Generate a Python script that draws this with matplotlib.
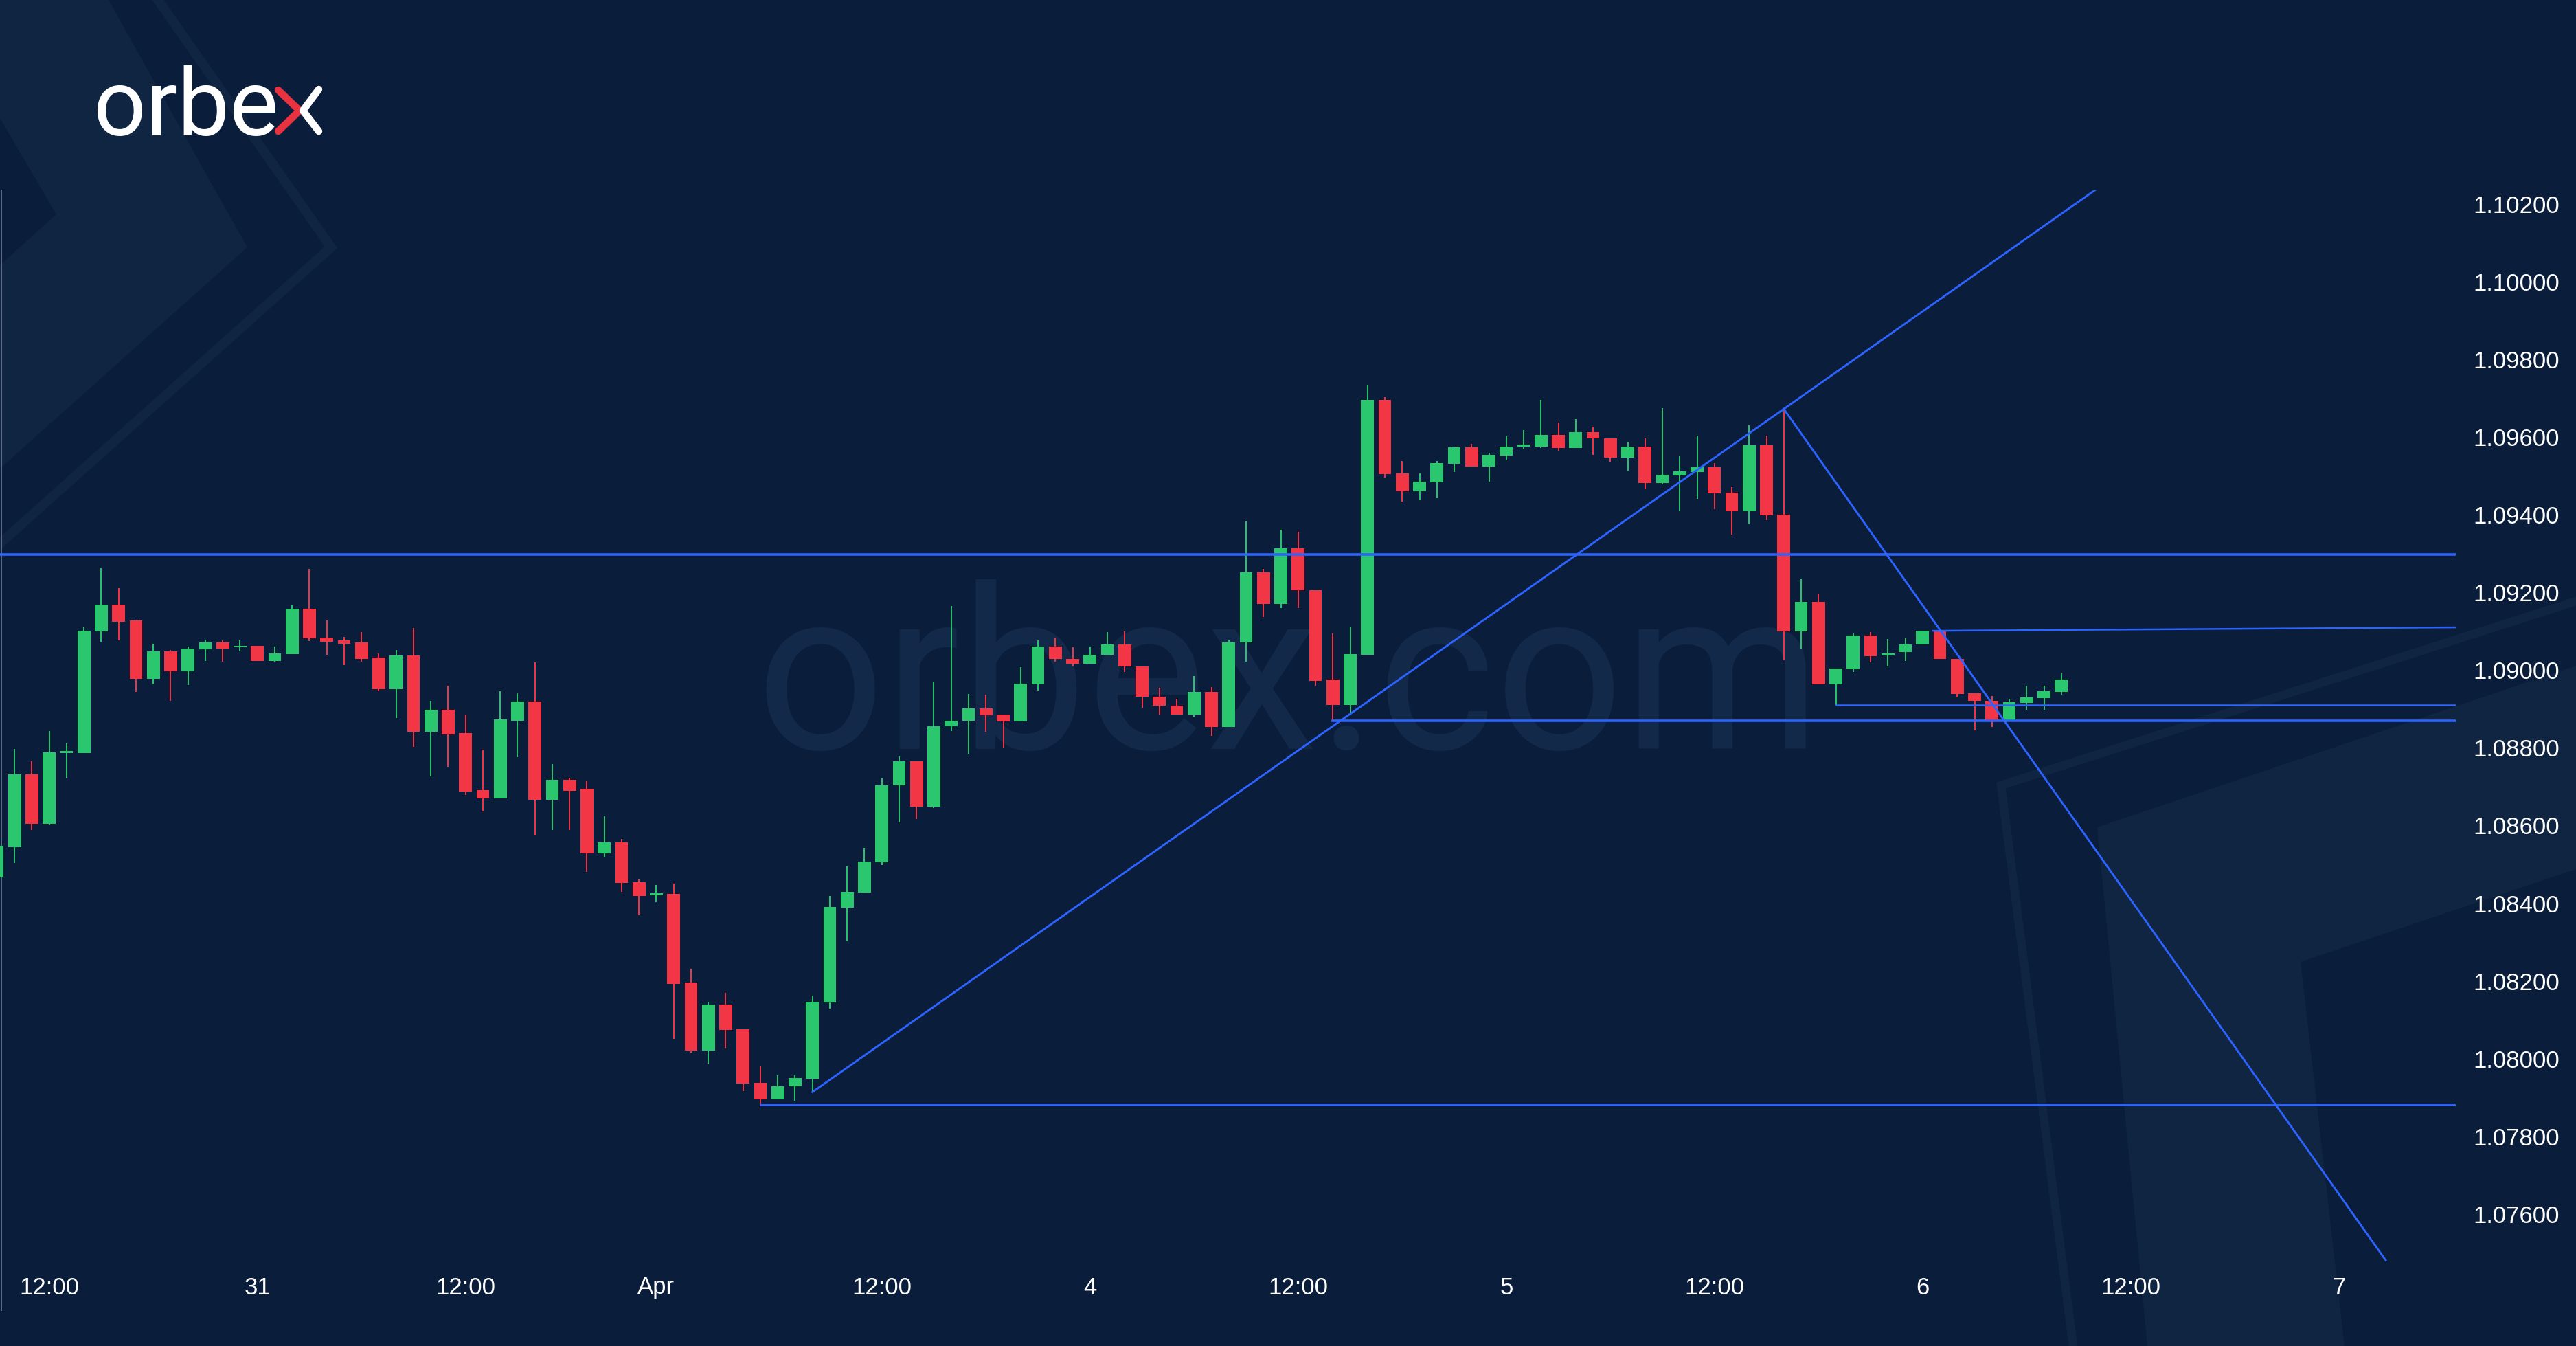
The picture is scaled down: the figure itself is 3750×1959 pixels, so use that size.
import matplotlib
matplotlib.use('Agg')
import matplotlib.pyplot as plt
from matplotlib.patches import Polygon
import numpy as np

# ---------------- data (hourly EURUSD candles, index -1 .. 118) ----------------
opens = [1.08466, 1.08545, 1.08731, 1.08604, 1.08787, 1.08786, 1.09100, 1.09169, 1.09127, 1.08978,
         1.09049, 1.08997, 1.09054, 1.09071, 1.09059, 1.09062, 1.09024, 1.09041, 1.09157, 1.09083,
         1.09076, 1.09071, 1.09033, 1.08951, 1.09037, 1.08842, 1.08897, 1.08838, 1.08691, 1.08670,
         1.08870, 1.08919, 1.08667, 1.08718, 1.08694, 1.08528, 1.08556, 1.08454, 1.08421, 1.08424,
         1.08196, 1.08021, 1.08139, 1.08076, 1.07937, 1.07896, 1.07929, 1.07949, 1.08144, 1.08389,
         1.08427, 1.08505, 1.08704, 1.08765, 1.08648, 1.08855, 1.08870, 1.08902, 1.08885, 1.08868,
         1.08963, 1.09061, 1.09029, 1.09017, 1.09039, 1.09066, 1.09010, 1.08932, 1.08909, 1.08886,
         1.08944, 1.08853, 1.09071, 1.09251, 1.09171, 1.09313, 1.09206, 1.08975, 1.08911, 1.09040,
         1.09696, 1.09507, 1.09460, 1.09483, 1.09531, 1.09574, 1.09523, 1.09552, 1.09576, 1.09575,
         1.09606, 1.09571, 1.09612, 1.09597, 1.09547, 1.09576, 1.09481, 1.09501, 1.09509, 1.09522,
         1.09456, 1.09409, 1.09579, 1.09400, 1.09100, 1.09176, 1.08964, 1.09003, 1.09089, 1.09038,
         1.09046, 1.09066, 1.09101, 1.09029, 1.08940, 1.08920, 1.08867, 1.08916, 1.08928, 1.08943]
highs = [1.08560, 1.08797, 1.08765, 1.08843, 1.08811, 1.09110, 1.09263, 1.09211, 1.09130, 1.09068,
         1.09052, 1.09061, 1.09078, 1.09076, 1.09076, 1.09063, 1.09061, 1.09168, 1.09261, 1.09127,
         1.09085, 1.09097, 1.09043, 1.09051, 1.09108, 1.08921, 1.08960, 1.08886, 1.08796, 1.08946,
         1.08941, 1.09020, 1.08758, 1.08723, 1.08715, 1.08624, 1.08566, 1.08461, 1.08447, 1.08450,
         1.08231, 1.08147, 1.08170, 1.08076, 1.07980, 1.07957, 1.07957, 1.08163, 1.08419, 1.08495,
         1.08543, 1.08721, 1.08777, 1.08765, 1.08970, 1.09165, 1.08939, 1.08937, 1.08885, 1.09007,
         1.09076, 1.09083, 1.09058, 1.09061, 1.09097, 1.09099, 1.09010, 1.08954, 1.08927, 1.08985,
         1.08956, 1.09079, 1.09383, 1.09260, 1.09361, 1.09355, 1.09206, 1.09094, 1.09112, 1.09734,
         1.09702, 1.09538, 1.09507, 1.09538, 1.09576, 1.09582, 1.09560, 1.09601, 1.09618, 1.09696,
         1.09637, 1.09645, 1.09627, 1.09597, 1.09588, 1.09596, 1.09675, 1.09551, 1.09604, 1.09533,
         1.09470, 1.09630, 1.09604, 1.09672, 1.09236, 1.09197, 1.09004, 1.09094, 1.09097, 1.09080,
         1.09082, 1.09101, 1.09101, 1.09029, 1.08940, 1.08933, 1.08926, 1.08960, 1.08960, 1.08992]
lows = [1.08440, 1.08504, 1.08589, 1.08602, 1.08723, 1.08786, 1.09073, 1.09076, 1.08943, 1.08963,
        1.08920, 1.08962, 1.09024, 1.09022, 1.09049, 1.09023, 1.09022, 1.09041, 1.09075, 1.09039,
        1.09012, 1.09022, 1.08945, 1.08877, 1.08802, 1.08726, 1.08751, 1.08679, 1.08637, 1.08670,
        1.08775, 1.08574, 1.08589, 1.08589, 1.08480, 1.08518, 1.08430, 1.08369, 1.08403, 1.08051,
        1.08013, 1.07987, 1.08026, 1.07916, 1.07881, 1.07896, 1.07892, 1.07914, 1.08129, 1.08302,
        1.08427, 1.08498, 1.08607, 1.08616, 1.08645, 1.08843, 1.08785, 1.08841, 1.08800, 1.08868,
        1.08947, 1.09022, 1.09010, 1.09017, 1.09039, 1.08995, 1.08904, 1.08885, 1.08886, 1.08878,
        1.08831, 1.08853, 1.09022, 1.09136, 1.09160, 1.09160, 1.08960, 1.08870, 1.08888, 1.09040,
        1.09496, 1.09434, 1.09438, 1.09442, 1.09509, 1.09523, 1.09485, 1.09539, 1.09568, 1.09571,
        1.09564, 1.09571, 1.09554, 1.09537, 1.09513, 1.09466, 1.09477, 1.09409, 1.09440, 1.09414,
        1.09348, 1.09375, 1.09386, 1.09025, 1.09056, 1.08964, 1.08910, 1.08996, 1.09019, 1.09010,
        1.09024, 1.09065, 1.09028, 1.08930, 1.08845, 1.08853, 1.08867, 1.08898, 1.08898, 1.08937]
closes = [1.08547, 1.08731, 1.08604, 1.08788, 1.08789, 1.09102, 1.09169, 1.09125, 1.08978, 1.09048,
          1.08997, 1.09056, 1.09071, 1.09056, 1.09061, 1.09023, 1.09043, 1.09157, 1.09081, 1.09073,
          1.09068, 1.09029, 1.08951, 1.09037, 1.08842, 1.08897, 1.08834, 1.08688, 1.08670, 1.08873,
          1.08919, 1.08667, 1.08718, 1.08690, 1.08528, 1.08556, 1.08453, 1.08418, 1.08423, 1.08193,
          1.08021, 1.08139, 1.08074, 1.07936, 1.07896, 1.07929, 1.07950, 1.08147, 1.08391, 1.08429,
          1.08507, 1.08704, 1.08765, 1.08648, 1.08855, 1.08870, 1.08902, 1.08883, 1.08868, 1.08965,
          1.09061, 1.09028, 1.09017, 1.09039, 1.09066, 1.09010, 1.08931, 1.08909, 1.08886, 1.08944,
          1.08853, 1.09071, 1.09251, 1.09171, 1.09313, 1.09205, 1.08972, 1.08911, 1.09041, 1.09696,
          1.09505, 1.09460, 1.09485, 1.09533, 1.09574, 1.09523, 1.09554, 1.09576, 1.09578, 1.09606,
          1.09571, 1.09612, 1.09596, 1.09547, 1.09576, 1.09481, 1.09503, 1.09511, 1.09522, 1.09455,
          1.09409, 1.09579, 1.09398, 1.09100, 1.09176, 1.08964, 1.09004, 1.09089, 1.09036, 1.09040,
          1.09066, 1.09101, 1.09028, 1.08938, 1.08920, 1.08869, 1.08918, 1.08930, 1.08945, 1.08975]
first_index = -1

x_tick_pos = [2, 14, 26, 37, 50, 62, 74, 86, 98, 110, 122, 134]
x_tick_labels = ['12:00', '31', '12:00', 'Apr', '12:00', '4', '12:00', '5', '12:00', '6', '12:00', '7']
y_tick_values = [1.076, 1.078, 1.080, 1.082, 1.084, 1.086, 1.088, 1.090,
                 1.092, 1.094, 1.096, 1.098, 1.100, 1.102]

# drawn analysis levels
resistance_level = 1.09297
support_anchor = 43          # candle whose low defines the bottom support
uptrend_anchors = (46, 102)  # low of 46 -> high of 102
downtrend_end = (136.7, 1.07481)
minor_high = (110.6, 1.09101, 1.09110)
level_a_anchor = 105         # low of candle 105
level_b_anchor = 76          # low of candle 76

# ---------------- figure ----------------
W, H = 3750, 1959
BG = '#0A1E3B'
DECOR = '#0F2541'
LINE = '#2D63FF'
GREEN = '#2AC76E'
RED = '#F23645'

fig = plt.figure(figsize=(W / 100, H / 100), dpi=100, facecolor=BG)

bg = fig.add_axes([0, 0, 1, 1], zorder=0)
bg.set_xlim(0, W)
bg.set_ylim(H, 0)
bg.axis('off')
bg.set_facecolor(BG)

# decorative chevrons
bg.add_patch(Polygon([(0, 0), (158, 0), (360, 360), (0, 682), (0, 386), (82, 312), (0, 172)],
                     closed=True, facecolor=DECOR, edgecolor='none'))
bg.plot([230, 482, 0], [0, 360, 791], color=DECOR, lw=10, solid_joinstyle='miter')
bg.add_patch(Polygon([(3053, 1204), (3750, 969), (3750, 1265), (3349, 1400), (3413, 1959), (3126, 1959)],
                     closed=True, facecolor=DECOR, edgecolor='none'))
bg.plot([3018, 2913, 3750], [1959, 1143, 875], color=DECOR, lw=9, solid_joinstyle='miter')

# watermark
bg.text(1100, 1090, 'orbex.com', fontsize=236, family='Roboto', color='#12294A',
        ha='left', va='baseline')

# logo
bg.text(136, 197, 'orbe', fontsize=97, family='Roboto', color='white',
        ha='left', va='baseline')
bg.plot([405, 436, 405], [131, 161, 191], color='#E8323F', lw=7.5, solid_capstyle='round',
        solid_joinstyle='round')
bg.plot([464, 441, 464], [130, 161, 191], color='white', lw=7.5, solid_capstyle='round',
        solid_joinstyle='round')

# chart left border
bg.plot([1.5, 1.5], [277, 1907], color='#5F6E88', lw=1.4)

# ---------------- main chart ----------------
ax = fig.add_axes([0, 114 / H, 3575 / W, 1568 / H], zorder=1)
ax.set_facecolor('none')
for s in ax.spines.values():
    s.set_visible(False)

o = np.array(opens); h = np.array(highs); l = np.array(lows); c = np.array(closes)
x = np.arange(first_index, first_index + len(o))
up = c >= o
cols = np.where(up, GREEN, RED)
bottoms = np.minimum(o, c)
heights = np.maximum(np.abs(c - o), 0.00004)

ax.vlines(x, l, h, colors=cols, lw=1.4, zorder=3)
ax.bar(x, heights, bottom=bottoms, width=0.74, color=cols, linewidth=0, zorder=4)

xmin, xmax = -0.84, 140.74
ax.set_xlim(xmin, xmax)
ax.set_ylim(1.07462, 1.102347)

def val(arr, i):
    return arr[i - first_index]

# lines
ax.plot([xmin, xmax], [resistance_level] * 2, color=LINE, lw=2.6, zorder=5)
sup = val(lows, support_anchor)
ax.plot([support_anchor, xmax], [sup, sup], color=LINE, lw=2.1, zorder=5)
a0, a1 = uptrend_anchors
p0, p1 = val(lows, a0), val(highs, a1)
slope = (p1 - p0) / (a1 - a0)
ax.plot([a0, 130], [p0, p0 + slope * (130 - a0)], color=LINE, lw=2.1, zorder=5)
ax.plot([a1, downtrend_end[0]], [p1, downtrend_end[1]], color=LINE, lw=2.1, zorder=5)
ax.plot([minor_high[0], xmax], [minor_high[1], minor_high[2]], color=LINE, lw=1.8, zorder=5)
la = val(lows, level_a_anchor)
ax.plot([level_a_anchor, xmax], [la, la], color=LINE, lw=1.8, zorder=5)
lb = val(lows, level_b_anchor)
ax.plot([level_b_anchor, xmax], [lb, lb], color=LINE, lw=2.6, zorder=5)

# ticks
ax.set_xticks(x_tick_pos)
ax.set_xticklabels(x_tick_labels)
ax.yaxis.tick_right()
ax.set_yticks(y_tick_values)
ax.set_yticklabels([f'{v:.5f}' for v in y_tick_values])
ax.tick_params(axis='both', length=0, colors='white', labelsize=25)
ax.tick_params(axis='x', pad=9)
ax.tick_params(axis='y', pad=18.5)
for lab in ax.get_xticklabels() + ax.get_yticklabels():
    lab.set_family('Liberation Sans')

fig.savefig('out.png', dpi=100, facecolor=BG)
